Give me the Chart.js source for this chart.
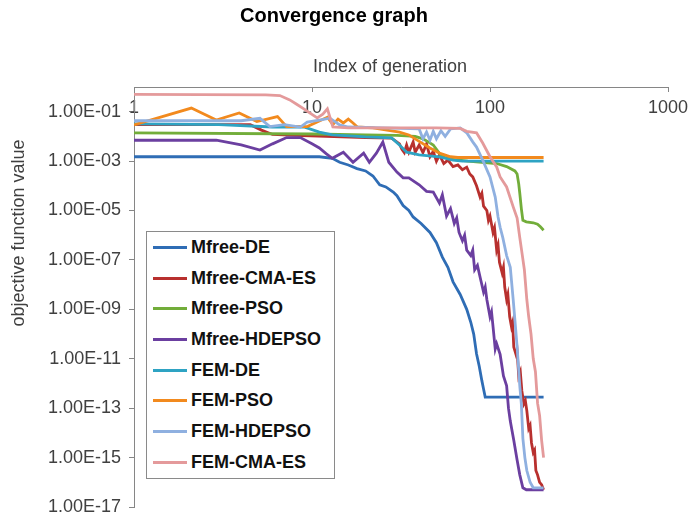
<!DOCTYPE html>
<html>
<head>
<meta charset="utf-8">
<title>Convergence graph</title>
<script src="https://cdn.jsdelivr.net/npm/chart.js@4.4.0/dist/chart.umd.min.js"></script>
<style>
    body { margin: 0; background: #fff; }
    #wrap { position: relative; width: 689px; height: 519px; }
    #legend {
        position: absolute; left: 146px; top: 231px; width: 187px; height: 246px;
        border: 1px solid #8a8a8a; background: #fff;
        font: bold 18px "Liberation Sans", Arial, sans-serif; color: #111;
    }
    #legend .item { height: 30.7px; display: flex; align-items: center; }
    #legend .swatch { width: 34px; height: 3px; margin-left: 6px; margin-right: 4px; }
</style>
</head>
<body>
<div id="wrap">
    <canvas id="convergence" width="689" height="519"></canvas>
    <div id="legend"></div>
</div>
<script>
// axis ticks
const xTicks = [1, 10, 100, 1000];
const yTicks = [1e-17, 1e-15, 1e-13, 1e-11, 1e-9, 1e-7, 1e-5, 1e-3, 1e-1];

const seriesNames = ["Mfree-DE", "Mfree-CMA-ES", "Mfree-PSO", "Mfree-HDEPSO",
                     "FEM-DE", "FEM-PSO", "FEM-HDEPSO", "FEM-CMA-ES"];
const seriesColors = ["#2f6db5", "#b8302e", "#72ad3a", "#6b3fa0",
                      "#2ea3c3", "#f28a1e", "#8fb0e0", "#e49a9b"];

// [generation, objective value]
const mfreeDE = [[1,1.5e-3],[11,1.5e-3],[13,1.3e-3],[14.3,9e-4],[16,7e-4],[17.9,5e-4],[20,4e-4],
    [22,2.5e-4],[24,1.1e-4],[26,9e-5],[28.6,5.6e-5],[30,4e-5],[32.5,1.6e-5],[35,1e-5],[37,5.5e-6],
    [41,3e-6],[46,1.3e-6],[50,5e-7],[54,1.3e-7],[58,5e-8],[62,1.3e-8],[68,4e-9],[74,1e-9],[78,3e-10],
    [81,1e-10],[84,1.6e-11],[87,5e-12],[90,1.3e-12],[92,6e-13],[94,2.8e-13],[200,2.8e-13]];

const mfreeCMAES = [[1,3e-2],[4.5,3e-2],[5.2,1.8e-2],[6,1.2e-2],[8,1.1e-2],[12,1e-2],[20,9e-3],
    [28,8.5e-3],[31,5e-3],[32,3e-3],[33,2.2e-3],[34,4.5e-3],[35,2.3e-3],[37,6e-3],[38,2.3e-3],
    [40,4.5e-3],[42,2.2e-3],[44,5e-3],[46,1.5e-3],[48,2.5e-3],[50,1e-3],[52,1.8e-3],[55,8e-4],
    [58,1.1e-3],[62,6e-4],[66,7e-4],[70,4.5e-4],[74,5.7e-4],[77,3e-4],[80,2.3e-4],[84,1e-4],
    [88,3.5e-5],[90,5e-5],[92,1.5e-5],[96,1e-5],[98,4e-6],[100,6e-6],[104,1.3e-6],[106,2e-6],
    [109,2.5e-7],[111,4e-7],[113,8e-8],[117,3e-8],[119,5e-8],[121,8e-9],[124,2.5e-9],[126,4e-9],
    [129,5e-10],[132,2e-10],[134,3e-10],[136,3e-11],[140,1.5e-11],[142,2e-11],[145,2e-12],
    [148,3e-12],[151,5e-13],[155,1.5e-13],[158,2e-13],[161,8e-14],[165,1.5e-14],[168,2e-14],
    [171,4e-15],[175,1.6e-15],[178,2e-15],[181,3e-16],[185,2e-16],[190,1e-16],[195,8e-17],[200,5e-17]];

const mfreePSO = [[1,1.4e-2],[10,1.25e-2],[20,1.15e-2],[30,1.1e-2],[38,1e-2],[42,8e-3],[45,6e-3],
    [48,4.5e-3],[51,2.5e-3],[54,1.5e-3],[60,1.2e-3],[75,1e-3],[90,9e-4],[109,8e-4],[124,6e-4],
    [138,4e-4],[142,3e-4],[145,1.2e-4],[147,5e-5],[150,1.2e-5],[153,4e-6],[160,3.5e-6],[175,3.2e-6],
    [185,2.8e-6],[192,2.2e-6],[200,1.6e-6]];

const mfreeHDEPSO = [[1,7e-3],[2.9,7e-3],[4,4.5e-3],[5.1,2.8e-3],[6,5e-3],[7.2,9e-3],[8.6,9e-3],
    [10,5e-3],[11,3.4e-3],[12,2e-3],[13,1.3e-3],[15,2.3e-3],[17,9e-4],[19.5,2.1e-3],[21,9e-4],
    [23,2.1e-3],[25,5.9e-3],[27,9e-4],[30,3.6e-4],[32.5,2.1e-4],[35,2.1e-4],[40,1.1e-4],[44,6e-5],
    [48,5.6e-5],[52,2e-5],[54,4.3e-5],[57,6e-6],[60,1.2e-5],[63,3e-6],[65,5e-6],[67,1.3e-6],
    [70,6e-7],[72,1e-6],[74,2.5e-7],[78,1.5e-7],[80,2.5e-7],[82,4e-8],[85,6e-8],[88,2e-8],
    [92,5e-9],[94,8e-9],[96,2.5e-9],[100,5e-10],[102,8e-10],[104,2e-10],[107,2.5e-11],[109,4e-11],
    [114,1.5e-11],[119,2e-12],[124,8e-13],[127,1e-13],[130,3e-14],[136,5e-15],[142,8e-16],
    [147,2e-16],[153,6e-17],[160,5e-17],[200,5e-17]];

const femDE = [[1,3.2e-2],[3,3e-2],[6,2.4e-2],[9,2.4e-2],[11,1.5e-2],[13,1.15e-2],[20,9.5e-3],
    [28,8.7e-3],[31,4.5e-3],[34,2.3e-3],[40,1.8e-3],[52,1.5e-3],[62,1.1e-3],[70,1e-3],[200,1e-3]];

const femPSO = [[1,2.9e-2],[2.1,1.4e-1],[2.9,4.6e-2],[3.9,8.9e-2],[4.9,4e-2],[6.4,6.3e-2],
    [7.2,2.5e-2],[9.4,2.5e-2],[12.2,6e-2],[13.1,3e-2],[14,5e-2],[15,3.5e-2],[16,5e-2],[17,3.5e-2],
    [18,2.4e-2],[22,2.2e-2],[31,1.5e-2],[35,1.15e-2],[40,6.3e-3],[46,3.4e-3],[52,2.1e-3],
    [60,1.5e-3],[66,1.4e-3],[200,1.4e-3]];

const femHDEPSO = [[1,4.3e-2],[4,4.3e-2],[5.1,5.4e-2],[5.8,2.5e-2],[7,3e-2],[8.6,2.4e-2],
    [9.4,3.8e-2],[11,4.6e-2],[12.6,5.5e-2],[14.3,2.9e-2],[16,2.4e-2],[25,2.2e-2],[40,2e-2],
    [42,8e-3],[44,1.5e-2],[46,7e-3],[48,1.6e-2],[50,8e-3],[53,1.7e-2],[56,1e-2],[60,2e-2],
    [68,2.2e-2],[74,1.4e-2],[80,6e-3],[84,3.7e-3],[91,1.1e-3],[100,2.3e-4],[107,3.5e-5],
    [111,5.5e-6],[114,2.1e-6],[118,8e-7],[124,1.5e-7],[130,5e-8],[135,2.5e-9],[139,2e-10],
    [142,3e-11],[147,8e-13],[150,1.5e-13],[153,6e-15],[157,1e-15],[161,3e-16],[168,1e-16],
    [175,6e-17],[200,6e-17]];

const femCMAES = [[1,5e-1],[5.5,4.8e-1],[6.6,4.5e-1],[7.5,3e-1],[8.2,2e-1],[9,1.3e-1],[9.7,9e-2],
    [10.7,5.6e-2],[11.5,8e-2],[12.2,1.3e-1],[13.1,2.4e-2],[16,2.2e-2],[30,2.2e-2],[50,2.2e-2],
    [68,2.1e-2],[74,1.6e-2],[84,1.4e-2],[91,5.4e-3],[100,1.5e-3],[109,5.8e-4],[114,2.3e-4],
    [124,9e-5],[135,1.4e-5],[142,5e-6],[147,8e-7],[152,1.5e-7],[156,4e-8],[161,2.5e-9],
    [165,5e-10],[170,1e-10],[175,1e-11],[180,3e-12],[185,1.6e-13],[190,5e-14],[195,5e-15],[200,1e-15]];

const seriesData = [mfreeDE, mfreeCMAES, mfreePSO, mfreeHDEPSO, femDE, femPSO, femHDEPSO, femCMAES];

const xTitle = "Index of generation";
const yTitle = "objective function value";
const fontFamily = '"Liberation Sans", Arial, sans-serif';
const axisGrey = "#868686";

function sciLabel(v) {
    let e = Math.round(Math.log10(v));
    return "1.00E" + (e < 0 ? "-" : "+") + String(Math.abs(e)).padStart(2, "0");
}

// axis titles sit off-centre in the original, so they are placed by hand
const axisTitles = {
    id: "axisTitles",
    afterDraw(chart) {
        let ctx = chart.ctx;
        let area = chart.chartArea;
        ctx.save();
        ctx.font = "18px " + fontFamily;
        ctx.fillStyle = "#404040";
        ctx.textAlign = "center";
        ctx.textBaseline = "middle";
        ctx.fillText(xTitle, area.left + 256, area.top - 20);
        ctx.translate(19, area.top + 146);
        ctx.rotate(-Math.PI / 2);
        ctx.fillText(yTitle, 0, 0);
        ctx.restore();
    }
};

let datasets = seriesData.map(function (pts, i) {
    return {
        label: seriesNames[i],
        data: pts.map(function (p) { return { x: p[0], y: p[1] }; }),
        borderColor: seriesColors[i],
        backgroundColor: seriesColors[i],
        borderWidth: 2.8,
        pointRadius: 0,
        tension: 0,
        fill: false,
        order: seriesData.length - i   // later series drawn on top, as in the original
    };
});

new Chart(document.getElementById("convergence"), {
    type: "line",
    data: { datasets: datasets },
    options: {
        responsive: false,
        animation: false,
        devicePixelRatio: 1,
        layout: { padding: { left: 0, right: 21, top: 0, bottom: 12 } },
        plugins: {
            legend: { display: false },
            tooltip: { enabled: false },
            title: {
                display: true,
                text: "Convergence graph",
                color: "#000",
                font: { family: fontFamily, size: 20, weight: "bold" },
                padding: { top: 4, bottom: 0 }
            }
        },
        scales: {
            x: {
                type: "logarithmic",
                position: "top",
                min: 1,
                max: 1000,
                afterBuildTicks: function (s) { s.ticks = xTicks.map(function (v) { return { value: v }; }); },
                afterFit: function (s) { s.height = 59; s.paddingLeft = 0; s.paddingRight = 0; },
                grid: { drawOnChartArea: false, tickLength: -5, color: axisGrey },
                border: { color: axisGrey, width: 1 },
                ticks: {
                    // labels hang below the axis line, inside the plot
                    mirror: true,
                    padding: 10,
                    color: "#404040",
                    font: { family: fontFamily, size: 18 },
                    maxRotation: 0,
                    autoSkip: false,
                    callback: function (v) { return String(v); }
                }
            },
            y: {
                type: "logarithmic",
                min: 1e-17,
                max: 1,
                afterBuildTicks: function (s) { s.ticks = yTicks.map(function (v) { return { value: v }; }); },
                afterFit: function (s) { s.width = 134; s.paddingTop = 0; s.paddingBottom = 0; },
                grid: { drawOnChartArea: false, tickLength: 5, color: axisGrey },
                border: { color: axisGrey, width: 1 },
                ticks: {
                    padding: 8,
                    color: "#404040",
                    font: { family: fontFamily, size: 18 },
                    autoSkip: false,
                    callback: function (v) { return sciLabel(v); }
                }
            }
        }
    },
    plugins: [axisTitles]
});

// legend box drawn inside the plot, like the spreadsheet one
let legend = document.getElementById("legend");
seriesNames.forEach(function (name, i) {
    let item = document.createElement("div");
    item.className = "item";
    let swatch = document.createElement("span");
    swatch.className = "swatch";
    swatch.style.background = seriesColors[i];
    let label = document.createElement("span");
    label.textContent = name;
    item.appendChild(swatch);
    item.appendChild(label);
    legend.appendChild(item);
});
</script>
</body>
</html>
